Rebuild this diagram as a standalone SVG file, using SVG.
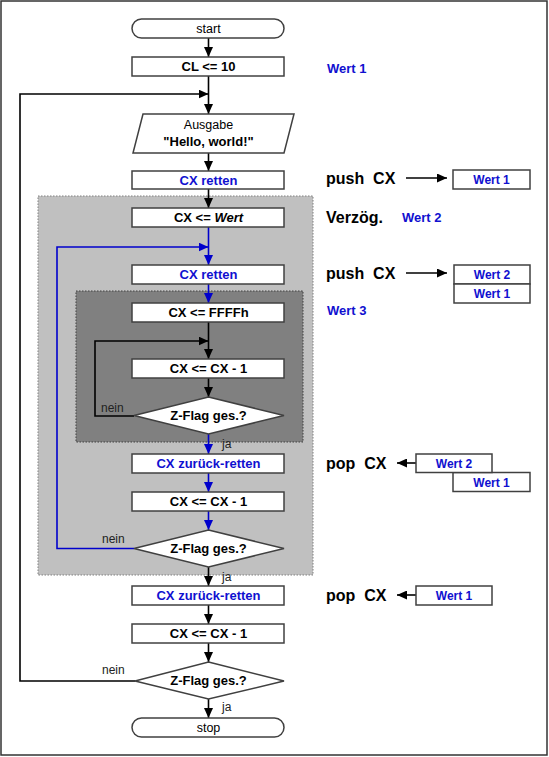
<svg xmlns="http://www.w3.org/2000/svg" width="549" height="757" viewBox="0 0 549 757">
<style>
text{font-family:"Liberation Sans",Arial,sans-serif;}
.box{fill:#fff;stroke:#404040;stroke-width:1.5;}
.t{font-size:13px;font-weight:bold;text-anchor:middle;fill:#000;}
.tb{font-size:13px;font-weight:bold;text-anchor:middle;fill:#1010d0;}
.ts{font-size:12px;font-weight:bold;text-anchor:middle;fill:#1010d0;}
.tr{font-size:12.5px;text-anchor:middle;fill:#000;}
.lbl{font-size:12px;fill:#222;}
.big{font-size:16px;font-weight:bold;fill:#000;white-space:pre;}
.wl{font-size:13px;font-weight:bold;fill:#1010d0;white-space:pre;}
.k{stroke:#000;stroke-width:1.6;fill:none;}
.b{stroke:#0000cc;stroke-width:1.6;fill:none;}
</style>
<defs>
<marker id="ak" markerUnits="userSpaceOnUse" markerWidth="10" markerHeight="9" refX="10" refY="4.5" orient="auto" viewBox="0 0 10 9"><path d="M0,0 L10,4.5 L0,9 z" fill="#000"/></marker>
<marker id="ab" markerUnits="userSpaceOnUse" markerWidth="10" markerHeight="9" refX="10" refY="4.5" orient="auto" viewBox="0 0 10 9"><path d="M0,0 L10,4.5 L0,9 z" fill="#0000cc"/></marker>
</defs>
<rect x="1" y="1" width="546" height="754" fill="#fff" stroke="#333" stroke-width="1.5"/>
<g id="region-outer"><rect x="38" y="196" width="275" height="379" fill="#c0c0c0" stroke="#808080" stroke-width="1" stroke-dasharray="1.5,1.5"/></g>
<g id="region-inner"><rect x="76" y="291" width="227" height="151" fill="#808080" stroke="#404040" stroke-width="1" stroke-dasharray="1.5,1.5"/></g>
<g id="connectors">
<line class="k" x1="208.5" y1="38" x2="208.5" y2="57" marker-end="url(#ak)"/>
<line class="k" x1="208.5" y1="76" x2="208.5" y2="114" marker-end="url(#ak)"/>
<polyline class="k" points="135,681 20,681 20,94 208.5,94" marker-end="url(#ak)"/>
<line class="k" x1="208.5" y1="153" x2="208.5" y2="171" marker-end="url(#ak)"/>
<line class="k" x1="208.5" y1="189" x2="208.5" y2="208" marker-end="url(#ak)"/>
<line class="b" x1="208.5" y1="227" x2="208.5" y2="265" marker-end="url(#ab)"/>
<polyline class="b" points="134,548.5 57,548.5 57,247 208.5,247" marker-end="url(#ab)"/>
<line class="b" x1="208.5" y1="284" x2="208.5" y2="303" marker-end="url(#ab)"/>
<line class="k" x1="208.5" y1="322" x2="208.5" y2="359" marker-end="url(#ak)"/>
<polyline class="k" points="134,416 95,416 95,341 208.5,341" marker-end="url(#ak)"/>
<line class="k" x1="208.5" y1="378" x2="208.5" y2="397" marker-end="url(#ak)"/>
<line class="b" x1="208.5" y1="434" x2="208.5" y2="454" marker-end="url(#ab)"/>
<line class="b" x1="208.5" y1="473" x2="208.5" y2="492" marker-end="url(#ab)"/>
<line class="b" x1="208.5" y1="511" x2="208.5" y2="530" marker-end="url(#ab)"/>
<line class="k" x1="208.5" y1="567" x2="208.5" y2="586" marker-end="url(#ak)"/>
<line class="k" x1="208.5" y1="605" x2="208.5" y2="624" marker-end="url(#ak)"/>
<line class="k" x1="208.5" y1="643" x2="208.5" y2="662" marker-end="url(#ak)"/>
<line class="k" x1="208.5" y1="699" x2="208.5" y2="718" marker-end="url(#ak)"/>
<line class="k" x1="406" y1="178" x2="447" y2="178" marker-end="url(#ak)"/>
<line class="k" x1="406" y1="273" x2="447" y2="273" marker-end="url(#ak)"/>
<line class="k" x1="416" y1="463" x2="397" y2="463" marker-end="url(#ak)"/>
<line class="k" x1="416" y1="595" x2="397" y2="595" marker-end="url(#ak)"/>
<text class="lbl" x="101" y="412">nein</text>
<text class="lbl" x="222" y="448">ja</text>
<text class="lbl" x="102" y="543">nein</text>
<text class="lbl" x="222" y="581">ja</text>
<text class="lbl" x="102" y="674">nein</text>
<text class="lbl" x="222" y="711">ja</text>
</g>
<g id="start"><rect class="box" x="132" y="19" width="152" height="19" rx="9.5"/><text class="tr" x="208.5" y="33">start</text></g>
<g id="cl10"><rect class="box" x="132" y="57" width="152" height="19"/><text class="t" x="208.5" y="71">CL &lt;= 10</text></g>
<g id="ausgabe"><polygon class="box" points="143,114 294,114 284,153 133,153"/><text class="tr" x="208.5" y="129">Ausgabe</text><text class="t" x="208.5" y="146">"Hello, world!"</text></g>
<g id="retten1"><rect class="box" x="132" y="171" width="152" height="18"/><text class="tb" x="208.5" y="184.5">CX retten</text></g>
<g id="cxwert"><rect class="box" x="132" y="208" width="152" height="19"/><text class="t" x="208.5" y="222">CX &lt;= <tspan font-style="italic">Wert</tspan></text></g>
<g id="retten2"><rect class="box" x="132" y="265" width="152" height="19"/><text class="tb" x="208.5" y="279">CX retten</text></g>
<g id="ffff"><rect class="box" x="132" y="303" width="152" height="19"/><text class="t" x="208.5" y="317">CX &lt;= FFFFh</text></g>
<g id="dec1"><rect class="box" x="132" y="359" width="152" height="19"/><text class="t" x="208.5" y="373">CX &lt;= CX - 1</text></g>
<g id="zflag1"><polygon class="box" points="208.5,397 284,415.5 208.5,434 134,415.5"/><text class="t" x="208.5" y="420">Z-Flag ges.?</text></g>
<g id="zurueck1"><rect class="box" x="132" y="454" width="152" height="19"/><text class="tb" x="208.5" y="468">CX zurück-retten</text></g>
<g id="dec2"><rect class="box" x="132" y="492" width="152" height="19"/><text class="t" x="208.5" y="506">CX &lt;= CX - 1</text></g>
<g id="zflag2"><polygon class="box" points="208.5,530 284,548.5 208.5,567 134,548.5"/><text class="t" x="208.5" y="553">Z-Flag ges.?</text></g>
<g id="zurueck2"><rect class="box" x="132" y="586" width="152" height="19"/><text class="tb" x="208.5" y="600">CX zurück-retten</text></g>
<g id="dec3"><rect class="box" x="132" y="624" width="152" height="19"/><text class="t" x="208.5" y="638">CX &lt;= CX - 1</text></g>
<g id="zflag3"><polygon class="box" points="208.5,662 284,681 208.5,699 135,681"/><text class="t" x="208.5" y="685">Z-Flag ges.?</text></g>
<g id="stop"><rect class="box" x="132" y="718" width="152" height="19" rx="9.5"/><text class="tr" x="208.5" y="732">stop</text></g>
<g id="notes">
<text class="wl" x="327" y="72.5">Wert 1</text>
<text class="big" x="326" y="184">push  CX</text>
<text class="big" x="326" y="223">Verzög.</text>
<text class="wl" x="402" y="222">Wert 2</text>
<text class="big" x="326" y="279">push  CX</text>
<text class="wl" x="327" y="314.5">Wert 3</text>
<text class="big" x="326" y="469">pop  CX</text>
<text class="big" x="326" y="601">pop  CX</text>
</g>
<g id="stack1"><rect class="box" x="453" y="170" width="77" height="19"/><text class="ts" x="491.5" y="184">Wert 1</text></g>
<g id="stack2"><rect class="box" x="454" y="265" width="76" height="19"/><text class="ts" x="492" y="279">Wert 2</text><rect class="box" x="454" y="284" width="76" height="19"/><text class="ts" x="492" y="298">Wert 1</text></g>
<g id="stack3"><rect class="box" x="453" y="472.5" width="77" height="19"/><text class="ts" x="491.5" y="486.5">Wert 1</text><rect class="box" x="416" y="454" width="76" height="18.5"/><text class="ts" x="454" y="467.5">Wert 2</text></g>
<g id="stack4"><rect class="box" x="416" y="586" width="76" height="19"/><text class="ts" x="454" y="600">Wert 1</text></g>
</svg>
